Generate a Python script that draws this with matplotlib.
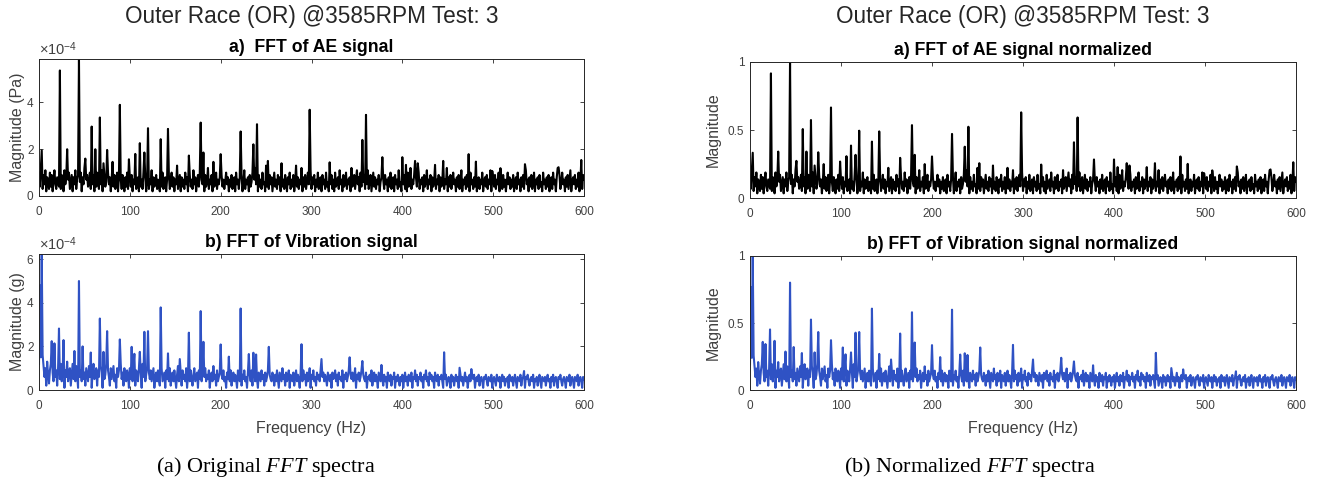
import numpy as np
import matplotlib.pyplot as plt
from matplotlib.ticker import FuncFormatter

plt.rcParams['font.family'] = ['Liberation Sans', 'DejaVu Sans']
plt.rcParams['mathtext.fontset'] = 'custom'
plt.rcParams['mathtext.rm'] = 'Liberation Sans'
plt.rcParams['mathtext.it'] = 'Liberation Serif:italic'

# spectra sampled at 1 Hz, 0..600 Hz
freq = np.arange(0, 601)

# AE noise floor, units of 1e-5 Pa
ae_floor = [
    10, 4, 12, 7, 3, 9, 5, 11, 2, 8, 6, 3, 10, 4, 9, 2, 7, 11, 5, 3,
    8, 6, 4, 10, 3, 9, 7, 2, 11, 5, 8, 4, 7, 10, 3, 6, 9, 2, 8, 5,
    11, 3, 7, 9, 4, 6, 10, 2, 8, 5, 12, 3, 7, 9, 4, 6, 10, 3, 8, 5,
    9, 2, 7, 4, 10, 6, 3, 8, 5, 11, 2, 7, 9, 4, 6, 3, 10, 5, 8, 2,
    7, 13, 4, 9, 3, 6, 10, 2, 8, 5, 7, 3, 9, 6, 2, 8, 4, 10, 3, 6,
    8, 4, 9, 2, 7, 5, 10, 3, 6, 8, 2, 9, 4, 7, 3, 10, 5, 8, 2, 6,
    9, 3, 7, 5, 11, 2, 8, 4, 6, 9, 3, 7, 5, 2, 8, 4, 10, 3, 6, 8,
    2, 7, 5, 9, 3, 6, 10, 4, 8, 2, 7, 5, 13, 3, 6, 9, 2, 8, 4, 7,
    3, 10, 5, 8, 2, 6, 9, 4, 7, 3, 11, 5, 8, 2, 6, 9, 4, 10, 3, 7,
    5, 8, 2, 9, 4, 6, 12, 3, 7, 5, 9, 2, 8, 4, 6, 10, 3, 7, 5, 8,
    2, 9, 4, 7, 3, 6, 10, 5, 8, 2, 7, 4, 9, 3, 6, 8, 2, 10, 5, 7,
    3, 8, 4, 9, 2, 6, 11, 3, 7, 5, 8, 2, 9, 4, 6, 10, 3, 7, 12, 5,
    8, 2, 9, 4, 7, 3, 10, 5, 6, 2, 13, 4, 7, 3, 9, 5, 8, 2, 6, 10,
    4, 7, 3, 9, 5, 8, 2, 14, 4, 7, 3, 9, 6, 2, 8, 5, 10, 3, 7, 4,
    9, 2, 6, 13, 4, 8, 3, 7, 5, 12, 2, 8, 4, 9, 3, 6, 10, 5, 7, 11,
    3, 8, 5, 9, 2, 7, 4, 10, 3, 6, 8, 2, 9, 5, 7, 3, 10, 4, 6, 2,
    8, 5, 9, 3, 7, 2, 10, 4, 6, 8, 3, 11, 5, 7, 2, 9, 4, 6, 10, 3,
    7, 5, 8, 2, 12, 4, 6, 9, 3, 7, 11, 5, 8, 2, 10, 4, 12, 6, 9, 3,
    8, 5, 11, 3, 7, 9, 2, 6, 10, 4, 8, 3, 7, 5, 9, 2, 6, 8, 4, 7,
    3, 9, 5, 7, 2, 8, 4, 10, 3, 6, 8, 2, 9, 5, 7, 3, 11, 4, 6, 2,
    8, 5, 9, 3, 7, 2, 10, 4, 6, 12, 3, 7, 5, 9, 2, 8, 4, 6, 10, 3,
    7, 5, 8, 2, 9, 4, 6, 11, 3, 7, 5, 9, 2, 8, 4, 6, 10, 3, 7, 5,
    9, 2, 8, 4, 6, 10, 3, 7, 5, 12, 2, 8, 4, 9, 3, 6, 10, 5, 7, 2,
    8, 4, 9, 3, 6, 11, 2, 7, 5, 8, 3, 9, 4, 6, 2, 10, 5, 7, 3, 8,
    4, 9, 2, 6, 8, 3, 7, 5, 10, 2, 6, 8, 4, 9, 3, 7, 5, 11, 2, 6,
    8, 4, 9, 3, 7, 5, 10, 2, 6, 8, 3, 9, 4, 7, 2, 6, 10, 5, 8, 3,
    7, 4, 9, 2, 6, 8, 3, 10, 5, 7, 2, 8, 4, 9, 3, 6, 11, 5, 7, 2,
    8, 4, 9, 3, 6, 10, 2, 7, 5, 8, 3, 9, 4, 6, 2, 10, 5, 7, 3, 8,
    4, 9, 2, 6, 8, 3, 10, 5, 7, 2, 8, 12, 4, 9, 3, 6, 10, 5, 7, 2,
    8, 4, 9, 3, 7, 11, 2, 6, 8, 5, 9, 3, 7, 4, 10, 2, 6, 8, 3, 9,
    7,
]

# AE spectral peaks: frequency (Hz), magnitude (x1e-4 Pa)
ae_peak_hz = [3, 23, 31, 44, 51, 58, 62, 67, 71, 75, 81, 89, 99, 106, 111,
              116, 120, 134, 142, 165, 178, 181, 192, 200, 222, 236, 240,
              252, 298, 320, 356, 360, 378, 400, 404, 414, 417, 436, 445,
              473, 481, 499, 508, 535, 572, 597]
ae_peak_amp = [1.95, 5.37, 2.0, 5.86, 1.6, 2.97, 2.0, 3.36, 1.4, 1.97, 1.46,
               3.9, 1.57, 1.8, 2.26, 1.86, 2.9, 2.43, 2.87, 1.73, 3.14, 1.86,
               1.46, 1.79, 2.76, 2.21, 3.07, 1.5, 3.69, 1.44, 2.4, 3.47, 1.66,
               1.66, 1.33, 1.5, 1.4, 1.33, 1.5, 1.79, 1.47, 1.07, 1.19, 1.36,
               1.23, 1.54]

# vibration noise floor, units of 1e-5 g
vib_floor = [
    12, 5, 15, 8, 3, 11, 6, 10, 2, 13, 7, 3, 9, 12, 1, 8, 4, 11, 6, 9,
    2, 10, 7, 5, 12, 4, 8, 11, 1, 9, 6, 13, 4, 8, 10, 2, 7, 12, 5, 9,
    4, 11, 7, 1, 10, 6, 9, 4, 12, 5, 8, 2, 10, 7, 4, 11, 6, 9, 1, 8,
    12, 5, 7, 10, 2, 9, 6, 4, 11, 8, 1, 10, 5, 7, 12, 4, 9, 6, 2, 10,
    5, 8, 11, 4, 7, 1, 10, 6, 9, 4, 12, 5, 8, 2, 10, 6, 4, 9, 7, 1,
    10, 5, 8, 4, 11, 6, 2, 9, 7, 4, 10, 5, 8, 1, 12, 6, 9, 4, 7, 10,
    2, 8, 5, 9, 4, 7, 10, 1, 6, 8, 4, 9, 5, 2, 7, 10, 4, 6, 8, 1,
    9, 5, 7, 4, 10, 2, 6, 8, 4, 9, 5, 1, 7, 11, 4, 6, 8, 2, 9, 5,
    7, 4, 10, 1, 6, 8, 4, 9, 5, 2, 7, 10, 4, 6, 8, 1, 9, 5, 7, 4,
    8, 2, 6, 10, 4, 7, 5, 9, 1, 6, 8, 4, 11, 5, 7, 2, 9, 4, 6, 8,
    2, 7, 5, 9, 4, 6, 1, 8, 5, 7, 4, 9, 2, 6, 8, 4, 7, 5, 1, 9,
    6, 4, 8, 2, 7, 5, 9, 4, 6, 1, 8, 5, 7, 4, 9, 2, 6, 8, 4, 7,
    5, 1, 8, 6, 4, 9, 5, 7, 2, 8, 4, 6, 9, 1, 7, 5, 4, 8, 6, 2,
    7, 4, 9, 5, 1, 8, 6, 4, 10, 5, 7, 2, 8, 4, 6, 9, 1, 7, 5, 4,
    8, 2, 6, 9, 4, 7, 5, 1, 8, 6, 4, 9, 5, 7, 2, 8, 4, 6, 10, 1,
    7, 5, 9, 4, 6, 2, 8, 5, 7, 4, 9, 1, 6, 8, 4, 7, 5, 2, 8, 6,
    4, 7, 1, 8, 5, 6, 9, 4, 7, 2, 8, 5, 6, 4, 9, 1, 7, 5, 8, 4,
    6, 9, 2, 7, 5, 8, 4, 6, 10, 1, 7, 5, 8, 4, 6, 9, 2, 7, 5, 4,
    8, 1, 6, 5, 7, 4, 9, 2, 6, 8, 4, 7, 5, 1, 8, 6, 4, 7, 5, 2,
    7, 4, 6, 1, 8, 5, 4, 7, 2, 6, 5, 8, 1, 6, 4, 7, 5, 2, 6, 4,
    7, 1, 5, 8, 4, 6, 2, 7, 5, 4, 8, 1, 6, 5, 9, 4, 7, 2, 6, 5,
    8, 4, 6, 1, 7, 5, 9, 4, 6, 2, 8, 5, 7, 4, 6, 1, 8, 5, 4, 7,
    2, 6, 5, 7, 4, 1, 6, 5, 7, 2, 4, 6, 5, 1, 7, 4, 6, 2, 5, 7,
    4, 6, 1, 5, 7, 4, 6, 2, 5, 8, 4, 6, 1, 5, 7, 4, 2, 6, 5, 7,
    1, 5, 6, 4, 7, 2, 5, 6, 4, 1, 6, 5, 7, 4, 2, 6, 5, 4, 7, 1,
    5, 6, 4, 2, 7, 5, 4, 6, 1, 5, 7, 4, 6, 2, 5, 4, 6, 1, 7, 5,
    4, 6, 2, 5, 7, 4, 1, 6, 5, 4, 7, 2, 5, 6, 4, 1, 6, 5, 7, 4,
    2, 5, 6, 4, 7, 1, 5, 4, 6, 2, 5, 7, 4, 1, 6, 5, 4, 6, 2, 5,
    7, 4, 5, 1, 6, 4, 7, 2, 5, 6, 4, 1, 6, 5, 7, 4, 2, 5, 6, 4,
    1, 6, 5, 4, 7, 2, 5, 6, 4, 1, 6, 5, 4, 7, 2, 5, 6, 4, 1, 6,
    5,
]

# vibration spectral peaks: frequency (Hz), magnitude (x1e-4 g)
vib_peak_hz = [1, 3, 4, 14, 17, 22, 27, 39, 44, 48, 57, 67, 71, 75, 89, 102,
               105, 111, 116, 120, 134, 142, 155, 165, 178, 181, 200, 209,
               222, 231, 236, 239, 253, 289, 311, 342, 356, 377, 446, 463,
               476, 534]
vib_peak_amp = [4.8, 6.24, 1.6, 2.24, 2.14, 2.82, 2.29, 1.79, 5.0, 2.0, 1.72,
                3.28, 1.75, 2.7, 2.32, 1.98, 1.66, 1.75, 2.67, 2.7, 3.79, 1.68,
                1.42, 2.63, 3.62, 2.21, 2.09, 1.53, 3.74, 1.65, 1.71, 1.63,
                1.98, 2.1, 1.42, 1.5, 1.33, 1.15, 1.73, 1.02, 0.96, 0.87]

ae = np.array(ae_floor, dtype=float) * 1e-5
ae[ae_peak_hz] = np.array(ae_peak_amp) * 1e-4
vib = np.array(vib_floor, dtype=float) * 1e-5
vib[vib_peak_hz] = np.array(vib_peak_amp) * 1e-4

main_title = 'Outer Race (OR) @3585RPM Test: 3'
black = 'black'
blue = '#2f52c4'
axis_gray = '#262626'
label_gray = '#404040'
LW = 1.5

W, H = 1320, 486
fig = plt.figure(figsize=(W / 100, H / 100), dpi=100)


def add_ax(x0, x1, top, bottom):
    return fig.add_axes([x0 / W, 1 - bottom / H, (x1 - x0) / W, (bottom - top) / H])


def style(ax):
    ax.set_xlim(0, 600)
    ax.set_xticks(range(0, 601, 100))
    ax.tick_params(direction='in', top=True, right=True, length=3, width=0.6,
                   labelsize=8.5, colors=axis_gray, labelcolor=label_gray)
    ax.tick_params(axis='x', pad=7)
    ax.tick_params(axis='y', pad=4)
    for s in ax.spines.values():
        s.set_color(axis_gray)
        s.set_linewidth(0.7)


sci = FuncFormatter(lambda v, p: f'{v * 1e4:g}')
norm = FuncFormatter(lambda v, p: f'{v:g}')

# (a) original spectra
ax1 = add_ax(39, 584, 59, 196)
ax1.plot(freq, ae, color=black, lw=LW)
ax1.set_ylim(0, ae.max())
ax1.set_yticks([0, 2e-4, 4e-4])
ax1.yaxis.set_major_formatter(sci)
ax1.set_ylabel('Magnitude (Pa)', fontsize=11.5, color=label_gray, labelpad=1.5)
ax1.set_title('a)  FFT of AE signal', fontsize=12.7, fontweight='bold', pad=5)
ax1.text(0, 1.01, r'$\times10^{-4}$', transform=ax1.transAxes, fontsize=10.5,
         color=label_gray, ha='left', va='bottom')
style(ax1)

ax2 = add_ax(39, 584, 254, 390)
ax2.plot(freq, vib, color=blue, lw=LW)
ax2.set_ylim(0, vib.max())
ax2.set_yticks([0, 2e-4, 4e-4, 6e-4])
ax2.yaxis.set_major_formatter(sci)
ax2.set_ylabel('Magnitude (g)', fontsize=11.5, color=label_gray, labelpad=1.5)
ax2.set_xlabel('Frequency (Hz)', fontsize=11.5, color=label_gray, labelpad=7)
ax2.set_title('b) FFT of Vibration signal', fontsize=12.7, fontweight='bold', pad=5)
ax2.text(0, 1.01, r'$\times10^{-4}$', transform=ax2.transAxes, fontsize=10.5,
         color=label_gray, ha='left', va='bottom')
style(ax2)

# (b) normalized spectra
ax3 = add_ax(750, 1296, 62, 198)
ax3.plot(freq, ae / ae.max(), color=black, lw=LW)
ax3.set_ylim(0, 1)
ax3.set_yticks([0, 0.5, 1])
ax3.yaxis.set_major_formatter(norm)
ax3.set_ylabel('Magnitude', fontsize=11.5, color=label_gray, labelpad=5.5)
ax3.set_title('a) FFT of AE signal normalized', fontsize=12.7, fontweight='bold', pad=5)
style(ax3)

ax4 = add_ax(750, 1296, 256, 390)
ax4.plot(freq, vib / vib.max(), color=blue, lw=LW)
ax4.set_ylim(0, 1)
ax4.set_yticks([0, 0.5, 1])
ax4.yaxis.set_major_formatter(norm)
ax4.set_ylabel('Magnitude', fontsize=11.5, color=label_gray, labelpad=5.5)
ax4.set_xlabel('Frequency (Hz)', fontsize=11.5, color=label_gray, labelpad=7)
ax4.set_title('b) FFT of Vibration signal normalized', fontsize=12.7, fontweight='bold', pad=5)
style(ax4)

fig.text(311.5 / W, 1 - 17 / H, main_title, fontsize=16.3, ha='center', va='center',
         color=axis_gray)
fig.text(1023 / W, 1 - 17 / H, main_title, fontsize=16.3, ha='center', va='center',
         color=axis_gray)

fig.text(266 / W, 1 - 467 / H, r'(a) Original $\mathit{FFT}$ spectra', fontsize=16,
         family='Liberation Serif', ha='center', va='center')
fig.text(970 / W, 1 - 467 / H, r'(b) Normalized $\mathit{FFT}$ spectra', fontsize=16,
         family='Liberation Serif', ha='center', va='center')

fig.savefig('out.png', dpi=100)
